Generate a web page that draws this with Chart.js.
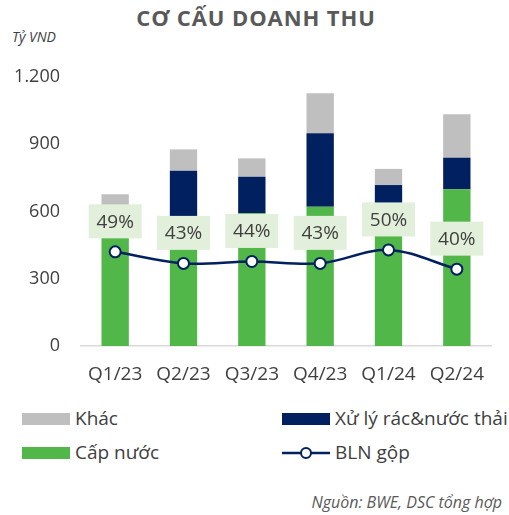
<!DOCTYPE html>
<html>
<head>
<meta charset="utf-8">
<script src="https://cdn.jsdelivr.net/npm/chart.js@4.4.1/dist/chart.umd.min.js"></script>
<style>
    body { margin: 0; background: #fff; font-family: 'Open Sans', sans-serif; }
    #wrap { position: relative; width: 509px; height: 515px; overflow: hidden; }
    #chartBox { position: absolute; left: 0; top: 0; width: 509px; height: 395px; }
    .title { position: absolute; left: 0; width: 512px; top: 2px; text-align: center; font-weight: 700; font-size: 22px; letter-spacing: 0.9px; color: #595959; }
    .unit { position: absolute; left: 12px; top: 27px; font-style: italic; font-size: 14px; color: #404040; }
    .legend-item { position: absolute; height: 24px; line-height: 24px; font-size: 19px; color: #404040; white-space: nowrap; }
    .legend-item .swatch { position: absolute; left: 0; top: 6px; width: 48px; height: 12px; }
    .legend-item svg { position: absolute; left: 0; top: 0; }
    .legend-item span { position: absolute; left: 53px; top: -1px; }
    .source { position: absolute; right: 7px; top: 491px; font-style: italic; font-size: 16px; color: #595959; }
</style>
</head>
<body>
<div id="wrap">
    <div class="title">CƠ CẤU DOANH THU</div>
    <div class="unit">Tỷ VND</div>
    <div id="chartBox"><canvas id="revenueChart"></canvas></div>
    <div id="legend"></div>
    <div class="source">Nguồn: BWE, DSC tổng hợp</div>
</div>
<script>
// Data
const quarters = ['Q1/23', 'Q2/23', 'Q3/23', 'Q4/23', 'Q1/24', 'Q2/24'];
const capNuoc = [620, 565, 592, 621, 620, 699];
const xuLyRac = [0, 217, 163, 328, 98, 141];
const khac = [57, 95, 82, 178, 72, 194];
const blnGop = [49, 43, 44, 43, 50, 40];
const yTicks = [0, 300, 600, 900, 1200];

const GREEN = '#50B748';
const NAVY = '#002060';
const GREY = '#BFBFBF';
const LABEL_BG = '#E2EFDA';
const TEXT = '#404040';

// Boxed percentage labels above the margin line
const boxLabels = {
    id: 'boxLabels',
    afterDatasetsDraw(chart) {
        const ctx = chart.ctx;
        const meta = chart.getDatasetMeta(3);
        ctx.save();
        ctx.font = '19px "Open Sans"';
        ctx.textAlign = 'center';
        ctx.textBaseline = 'middle';
        meta.data.forEach((pt, i) => {
            const cx = pt.x;
            const cy = pt.y - 30.5;
            ctx.fillStyle = LABEL_BG;
            ctx.fillRect(cx - 26.5, cy - 17, 53, 34);
            ctx.fillStyle = TEXT;
            ctx.fillText(blnGop[i] + '%', cx, cy + 1);
        });
        ctx.restore();
    }
};

const chart = new Chart(document.getElementById('revenueChart'), {
    type: 'bar',
    data: {
        labels: quarters,
        datasets: [
            { label: 'Cấp nước', data: capNuoc, backgroundColor: GREEN, order: 1, yAxisID: 'y' },
            { label: 'Xử lý rác&nước thải', data: xuLyRac, backgroundColor: NAVY, order: 1, yAxisID: 'y' },
            { label: 'Khác', data: khac, backgroundColor: GREY, order: 1, yAxisID: 'y' },
            {
                type: 'line',
                label: 'BLN gộp',
                data: blnGop,
                yAxisID: 'y1',
                order: 0,
                borderColor: NAVY,
                borderWidth: 2.5,
                tension: 0.35,
                pointRadius: 5.5,
                pointBackgroundColor: '#fff',
                pointBorderColor: NAVY,
                pointBorderWidth: 2
            }
        ]
    },
    options: {
        responsive: true,
        maintainAspectRatio: false,
        animation: false,
        categoryPercentage: 0.8,
        barPercentage: 0.5,
        layout: { padding: { top: 77, right: 18, left: 0, bottom: 0 } },
        plugins: {
            legend: { display: false },
            tooltip: { enabled: false }
        },
        scales: {
            x: {
                stacked: true,
                grid: { display: false, drawTicks: false },
                border: { display: true, color: '#D9D9D9', width: 1.5 },
                ticks: { color: TEXT, font: { family: 'Open Sans', size: 19 }, padding: 17 },
                afterFit: s => { s.height = 49; }
            },
            y: {
                stacked: true,
                min: 0,
                max: 1200,
                afterBuildTicks: s => { s.ticks = yTicks.map(v => ({ value: v })); },
                grid: { display: false, drawTicks: false },
                border: { display: false },
                ticks: {
                    color: TEXT,
                    font: { family: 'Open Sans', size: 18 },
                    padding: 21,
                    callback: v => v.toLocaleString('de-DE')
                },
                afterFit: s => { s.width = 81; }
            },
            y1: {
                display: false,
                min: 0,
                max: 140
            }
        }
    },
    plugins: [boxLabels]
});

// Legend built from the same series names and colours
const legendItems = [
    { name: 'Khác', color: GREY, x: 22, y: 407 },
    { name: 'Xử lý rác&nước thải', color: NAVY, x: 282, y: 407 },
    { name: 'Cấp nước', color: GREEN, x: 22, y: 441 },
    { name: 'BLN gộp', color: NAVY, x: 282, y: 441, line: true }
];
const legend = document.getElementById('legend');
legendItems.forEach(item => {
    const el = document.createElement('div');
    el.className = 'legend-item';
    el.style.left = item.x + 'px';
    el.style.top = item.y + 'px';
    const marker = item.line
        ? `<svg width="50" height="24"><line x1="0" y1="12" x2="48" y2="12" stroke="${item.color}" stroke-width="2.5"/><circle cx="24" cy="12" r="5" fill="#fff" stroke="${item.color}" stroke-width="2"/></svg>`
        : `<div class="swatch" style="background:${item.color}"></div>`;
    el.innerHTML = marker;
    const text = document.createElement('span');
    text.textContent = item.name;
    el.appendChild(text);
    legend.appendChild(el);
});
</script>
</body>
</html>
